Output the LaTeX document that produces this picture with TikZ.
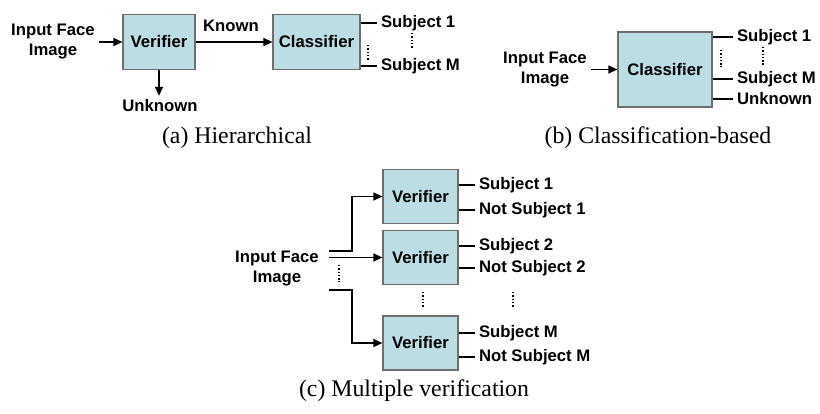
\documentclass[tikz,border=0pt]{standalone}
\usepackage{fontspec}
\setmainfont{Liberation Serif}
\newfontfamily\diagfont{Liberation Sans}
\usetikzlibrary{arrows.meta}
\usepackage{xcolor}
\definecolor{boxfill}{HTML}{BBDDE3}
\definecolor{boxedge}{HTML}{6E6E6E}

\begin{document}
\begin{tikzpicture}[x=1pt,y=1pt,>={Triangle[length=9pt,width=8pt]},line width=1.4pt,
  procbox/.style={draw=boxedge,fill=boxfill,line width=1.2pt,font=\diagfont\bfseries\fontsize{16.7}{20}\selectfont},
  lbl/.style={font=\diagfont\bfseries\fontsize{16.7}{20}\selectfont,align=center},
  captext/.style={font=\fontsize{23.8}{28}\selectfont},
  dotline/.style={line width=2pt,dash pattern=on 1.5pt off 1.8pt}]
\useasboundingbox (0,0) rectangle (820,-414);
% (a) hierarchical
\node[lbl] (inA) at (53,-42) {Input Face\\Image};
\node[procbox,minimum width=72,minimum height=55] (verA) at (159,-42) {Verifier};
\node[procbox,minimum width=87,minimum height=55] (clsA) at (316.5,-42) {Classifier};
\node[lbl] (unkA) at (160,-106) {Unknown};
\node[lbl,anchor=west] (s1A) at (377,-23) {Subject 1};
\node[lbl,anchor=west] (sMA) at (377,-66) {Subject M};
\draw[->] (inA.east) -- (verA.west);
\draw[->] (verA.east) -- node[lbl,above,yshift=6pt,xshift=-3pt] {Known} (clsA.west);
\draw[->] (verA.south) -- (verA.south |- unkA.north);
\draw[line width=1.2pt] (clsA.east |- s1A) -- (s1A.west);
\draw[line width=1.2pt] (clsA.east |- sMA) -- (sMA.west);
\draw[dotline] (368,-45) -- (368,-61);
\draw[dotline] (412,-33) -- (412,-49);
\node[captext] (capA) at (237,-138) {(a) Hierarchical};
% (b) classification-based
\node[lbl] (inB) at (545,-69.5) {Input Face\\Image};
\node[procbox,minimum width=94,minimum height=75] (clsB) at (665,-69.5) {Classifier};
\node[lbl,anchor=west] (s1B) at (733,-37) {Subject 1};
\node[lbl,anchor=west] (sMB) at (733,-79) {Subject M};
\node[lbl,anchor=west] (unkB) at (733,-99) {Unknown};
\draw[->] (inB.east) -- (clsB.west);
\draw[line width=1.2pt] (clsB.east |- s1B) -- (s1B.west);
\draw[line width=1.2pt] (clsB.east |- sMB) -- (sMB.west);
\draw[line width=1.2pt] (clsB.east |- unkB) -- (unkB.west);
\draw[dotline] (721,-50) -- (721,-67);
\draw[dotline] (763,-47) -- (763,-65);
\node[captext] (capB) at (658,-138) {(b) Classification-based};
% (c) multiple verification
\node[lbl] (inC) at (277,-269) {Input Face\\Image};
\node[procbox,minimum width=75,minimum height=54] (ver1) at (420.5,-196.5) {Verifier};
\node[procbox,minimum width=75,minimum height=54] (ver2) at (420.5,-257.5) {Verifier};
\node[procbox,minimum width=75,minimum height=54] (ver3) at (420.5,-343) {Verifier};
\coordinate (t1) at (329,-251);
\coordinate (t2) at (329,-257.5);
\coordinate (t3) at (329,-290);
\draw[->] (t1) -- (352,-251) |- (ver1.west);
\draw[->] (t2) -- (ver2.west);
\draw[->] (t3) -- (352,-290) |- (ver3.west);
\draw[dotline] (339,-265) -- (339,-282);
\node[lbl,anchor=west] (s1C) at (475,-185) {Subject 1};
\node[lbl,anchor=west] (n1C) at (475,-210) {Not Subject 1};
\node[lbl,anchor=west] (s2C) at (475,-246) {Subject 2};
\node[lbl,anchor=west] (n2C) at (475,-268) {Not Subject 2};
\node[lbl,anchor=west] (sMC) at (475,-333) {Subject M};
\node[lbl,anchor=west] (nMC) at (475,-357) {Not Subject M};
\draw[line width=1.2pt] (ver1.east |- s1C) -- (s1C.west);
\draw[line width=1.2pt] (ver1.east |- n1C) -- (n1C.west);
\draw[line width=1.2pt] (ver2.east |- s2C) -- (s2C.west);
\draw[line width=1.2pt] (ver2.east |- n2C) -- (n2C.west);
\draw[line width=1.2pt] (ver3.east |- sMC) -- (sMC.west);
\draw[line width=1.2pt] (ver3.east |- nMC) -- (nMC.west);
\draw[dotline] (423,-292) -- (423,-308);
\draw[dotline] (513,-292) -- (513,-308);
\node[captext] (capC) at (414,-391) {(c) Multiple verification};
\end{tikzpicture}
\end{document}
